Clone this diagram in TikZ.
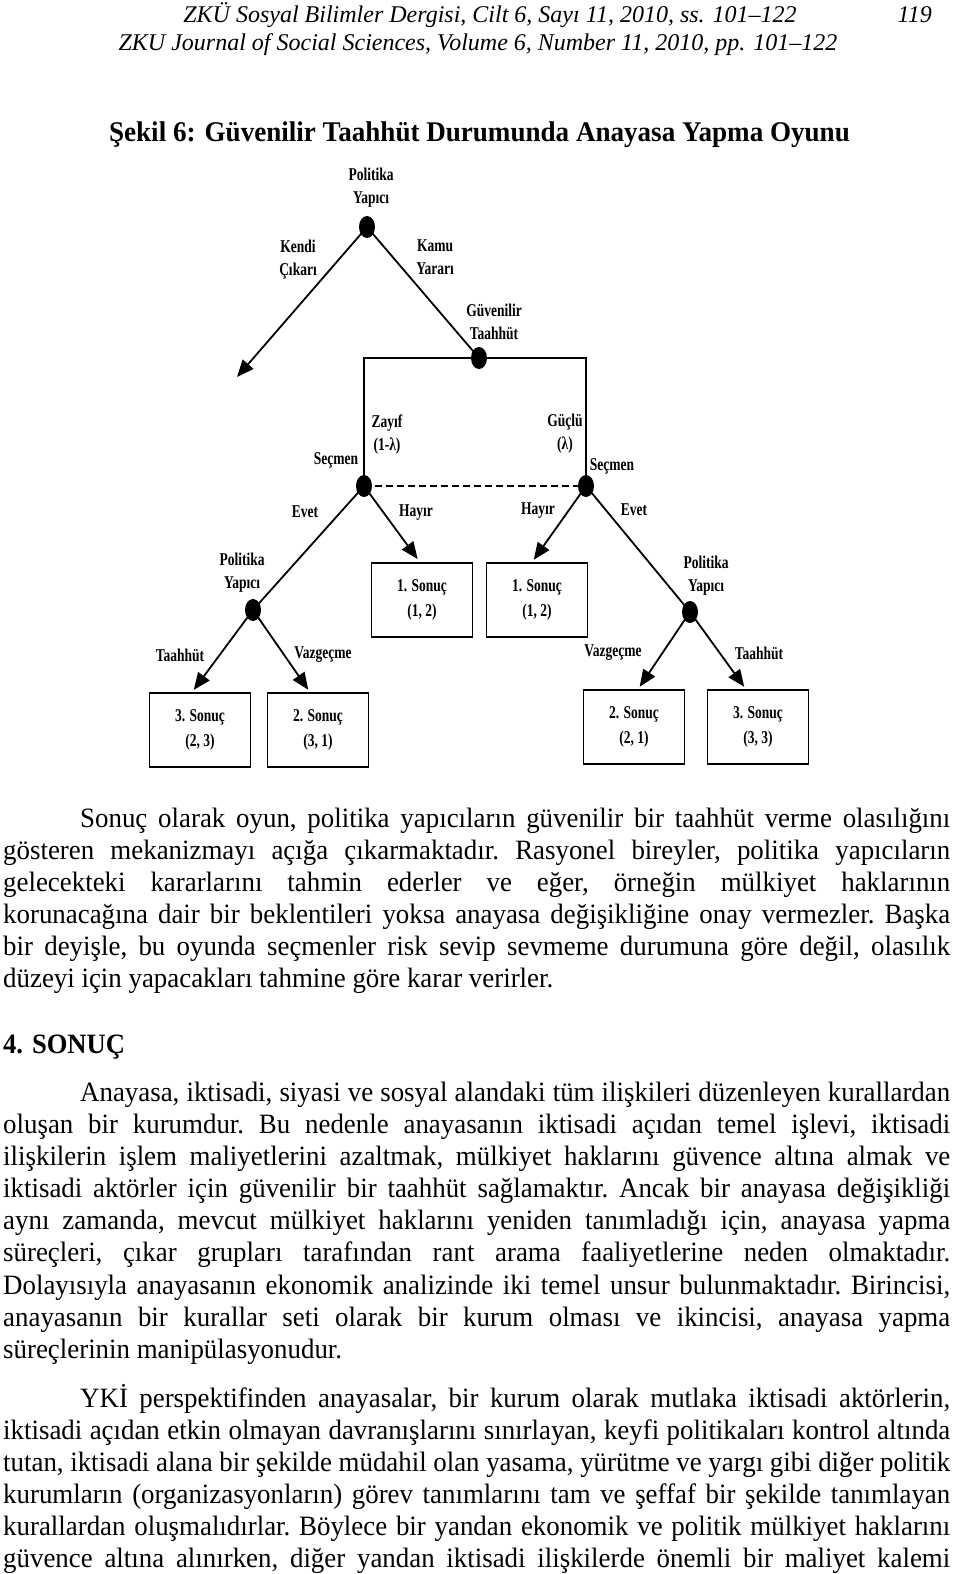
\documentclass[tikz,border=0pt]{standalone}
\usepackage{fontspec}
\setmainfont{Liberation Serif}
\newfontfamily\dfont{Liberation Serif}[FakeStretch=0.75]
\newfontfamily\tfont{Liberation Serif}[FakeStretch=0.95]
\newfontfamily\bfont{Liberation Serif}[FakeStretch=0.96]
\usetikzlibrary{arrows.meta}
\newcommand\bodyfs{\bfont\fontsize{28}{32}\selectfont\frenchspacing}
\newcommand\FullLine[3]{\node[bodyline] (#1) at (3,#2) {\hbox to 947pt{#3}};}
\newcommand\IndLine[3]{\node[bodyline] (#1) at (3,#2) {\hbox to 947pt{\hskip77pt #3}};}
\newcommand\LastLine[3]{\node[bodyline] (#1) at (3,#2) {#3};}
\begin{document}
\begin{tikzpicture}[x=1pt,y=-1pt,
  bodyline/.style={anchor=base west, inner sep=0pt, font=\bodyfs},
  lbl/.style={inner sep=0pt, align=center, font=\dfont\bfseries\fontsize{18}{23}\selectfont},
  res/.style={draw, line width=1.5pt, minimum width=101pt, minimum height=74pt, inner sep=0pt, align=center, font=\dfont\bfseries\fontsize{18}{25}\selectfont},
  edge/.style={line width=1.8pt},
  arr/.style={line width=1.8pt, -{Triangle[length=17pt,width=14pt]}},
  dotfill/.style={fill=black},
]
\useasboundingbox (0,0) rectangle (960,1574);
\fill[white] (0,0) rectangle (960,1574);

% header
\node[anchor=base, inner sep=0pt, font=\itshape\fontsize{24}{28}\selectfont] (h1) at (490,22) {ZKÜ Sosyal Bilimler Dergisi, Cilt 6, Sayı 11, 2010, ss. 101–122};
\node[anchor=base, inner sep=0pt, font=\itshape\fontsize{24}{28}\selectfont] (h2) at (478,50) {ZKU Journal of Social Sciences, Volume 6, Number 11, 2010, pp. 101–122};
\node[anchor=base east, inner sep=0pt, font=\itshape\fontsize{24}{28}\selectfont] (pg) at (932,22) {119};
\node[anchor=base, inner sep=0pt, font=\tfont\bfseries\fontsize{28.5}{32}\selectfont] (title) at (479.5,141) {Şekil 6: Güvenilir Taahhüt Durumunda Anayasa Yapma Oyunu};

% tree nodes (decision points)
\coordinate (root) at (367,227);
\coordinate (gt) at (479,358);
\coordinate (sl) at (364,486);
\coordinate (sr) at (586,486);
\coordinate (pl) at (253,610);
\coordinate (pr) at (690,612);
\coordinate (ke) at (237,377);
\coordinate (cl) at (364,358);
\coordinate (cr) at (586,358);

% result boxes
\node[res] (b1l) at (422,600) {1. Sonuç\\(1, 2)};
\node[res] (b1r) at (537,600) {1. Sonuç\\(1, 2)};
\node[res] (b3l) at (200,730) {3. Sonuç\\(2, 3)};
\node[res] (b2l) at (318,730) {2. Sonuç\\(3, 1)};
\node[res] (b2r) at (634,727) {2. Sonuç\\(2, 1)};
\node[res] (b3r) at (758,727) {3. Sonuç\\(3, 3)};

% edges
\draw[arr] (root) -- (ke);
\draw[edge] (root) -- (gt);
\draw[edge] (sl) -- (cl) -- (cr) -- (sr);
\draw[line width=1.6pt, dash pattern=on 7pt off 4pt] (sl) -- (sr);
\draw[arr, shorten >=4pt] (sl) -- ([xshift=-2pt]b1l.north);
\draw[arr, shorten >=3pt] (sr) -- ([xshift=-5pt]b1r.north);
\draw[edge] (sl) -- (pl);
\draw[edge] (sr) -- (pr);
\draw[arr, shorten >=3pt] (pl) -- ([xshift=-8pt]b3l.north);
\draw[arr, shorten >=3pt] (pl) -- ([xshift=-8pt]b2l.north);
\draw[arr, shorten >=3pt] (pr) -- ([xshift=4pt]b2r.north);
\draw[arr, shorten >=3pt] (pr) -- ([xshift=-12pt]b3r.north);

% dots
\foreach \p in {root,gt,sl,sr,pl,pr} \fill[dotfill] (\p) ellipse (8pt and 11pt);

% labels
\node[lbl] (l-root) at (371,188) {Politika\\Yapıcı};
\node[lbl] (l-kendi) at (298,260) {Kendi\\Çıkarı};
\node[lbl] (l-kamu) at (435,257) {Kamu\\Yararı};
\node[lbl] (l-gt) at (494,322) {Güvenilir\\Taahhüt};
\node[lbl] (l-zayif) at (387,435) {Zayıf\\(1-λ)};
\node[lbl] (l-guclu) at (565,434) {Güçlü\\(λ)};
\node[lbl] (l-secl) at (336,460) {Seçmen};
\node[lbl] (l-secr) at (612,466) {Seçmen};
\node[lbl] (l-evl) at (305,512) {Evet};
\node[lbl] (l-hayl) at (416,513) {Hayır};
\node[lbl] (l-hayr) at (538,511) {Hayır};
\node[lbl] (l-evr) at (634,510) {Evet};
\node[lbl] (l-pyl) at (242,573) {Politika\\Yapıcı};
\node[lbl] (l-pyr) at (706,576) {Politika\\Yapıcı};
\node[lbl] (l-tl) at (180,655) {Taahhüt};
\node[lbl] (l-vl) at (323,655) {Vazgeçme};
\node[lbl] (l-vr) at (613,653) {Vazgeçme};
\node[lbl] (l-tr) at (759,653) {Taahhüt};

% body text
\IndLine{a1}{827}{Sonuç olarak oyun, politika yapıcıların güvenilir bir taahhüt verme olasılığını}
\FullLine{a2}{859}{gösteren mekanizmayı açığa çıkarmaktadır. Rasyonel bireyler, politika yapıcıların}
\FullLine{a3}{891}{gelecekteki kararlarını tahmin ederler ve eğer, örneğin mülkiyet haklarının}
\FullLine{a4}{923}{korunacağına dair bir beklentileri yoksa anayasa değişikliğine onay vermezler. Başka}
\FullLine{a5}{955}{bir deyişle, bu oyunda seçmenler risk sevip sevmeme durumuna göre değil, olasılık}
\LastLine{a6}{987}{düzeyi için yapacakları tahmine göre karar verirler.}

\node[anchor=base west, inner sep=0pt, font=\tfont\bfseries\fontsize{28}{32}\selectfont] (sec) at (3,1053) {4. SONUÇ};

\IndLine{b1}{1101}{Anayasa, iktisadi, siyasi ve sosyal alandaki tüm ilişkileri düzenleyen kurallardan}
\FullLine{b2}{1133}{oluşan bir kurumdur. Bu nedenle anayasanın iktisadi açıdan temel işlevi, iktisadi}
\FullLine{b3}{1165}{ilişkilerin işlem maliyetlerini azaltmak, mülkiyet haklarını güvence altına almak ve}
\FullLine{b4}{1197}{iktisadi aktörler için güvenilir bir taahhüt sağlamaktır. Ancak bir anayasa değişikliği}
\FullLine{b5}{1229}{aynı zamanda, mevcut mülkiyet haklarını yeniden tanımladığı için, anayasa yapma}
\FullLine{b6}{1261}{süreçleri, çıkar grupları tarafından rant arama faaliyetlerine neden olmaktadır.}
\FullLine{b7}{1294}{Dolayısıyla anayasanın ekonomik analizinde iki temel unsur bulunmaktadır. Birincisi,}
\FullLine{b8}{1326}{anayasanın bir kurallar seti olarak bir kurum olması ve ikincisi, anayasa yapma}
\LastLine{b9}{1358}{süreçlerinin manipülasyonudur.}

\IndLine{c1}{1407}{YKİ perspektifinden anayasalar, bir kurum olarak mutlaka iktisadi aktörlerin,}
\FullLine{c2}{1439}{iktisadi açıdan etkin olmayan davranışlarını sınırlayan, keyfi politikaları kontrol altında}
\FullLine{c3}{1471}{tutan, iktisadi alana bir şekilde müdahil olan yasama, yürütme ve yargı gibi diğer politik}
\FullLine{c4}{1503}{kurumların (organizasyonların) görev tanımlarını tam ve şeffaf bir şekilde tanımlayan}
\FullLine{c5}{1535}{kurallardan oluşmalıdırlar. Böylece bir yandan ekonomik ve politik mülkiyet haklarını}
\FullLine{c6}{1567}{güvence altına alınırken, diğer yandan iktisadi ilişkilerde önemli bir maliyet kalemi}
\end{tikzpicture}
\end{document}
